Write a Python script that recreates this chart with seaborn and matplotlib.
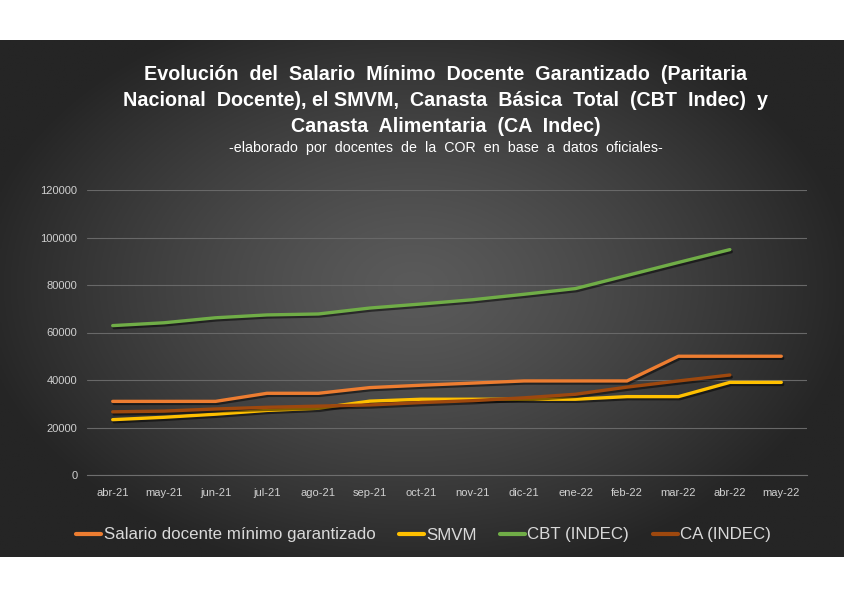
import numpy as np
import pandas as pd
import matplotlib
matplotlib.use("Agg")
import matplotlib.pyplot as plt
import matplotlib.patheffects as pe
from matplotlib.lines import Line2D
import seaborn as sns

# ---- data ----
months = ["abr-21", "may-21", "jun-21", "jul-21", "ago-21", "sep-21", "oct-21",
          "nov-21", "dic-21", "ene-22", "feb-22", "mar-22", "abr-22", "may-22"]
salario_docente = [31000, 31000, 31000, 34400, 34400, 36800, 37800,
                   38700, 39600, 39600, 39600, 50000, 50000, 50000]
smvm = [23300, 24300, 25600, 27200, 28100, 31100, 31900,
        31900, 31900, 31900, 33000, 33000, 39000, 39000]
cbt = [62900, 64100, 66200, 67400, 67800, 70300, 72000,
       73800, 76100, 78500, 84000, 89500, 94900, np.nan]
ca = [26600, 26900, 27800, 28500, 29000, 29500, 30500,
      31300, 32500, 34000, 37000, 39600, 42100, np.nan]

series_names = ["Salario docente mínimo garantizado", "SMVM", "CBT (INDEC)", "CA (INDEC)"]
series_colors = ["#ED7D31", "#FFC000", "#70AD47", "#9E480E"]

title_lines = ["Evolución  del  Salario  Mínimo  Docente  Garantizado  (Paritaria",
               "Nacional  Docente), el SMVM,  Canasta  Básica  Total  (CBT  Indec)  y",
               "Canasta  Alimentaria  (CA  Indec)"]
subtitle = "-elaborado  por  docentes  de  la  COR  en  base  a  datos  oficiales-"

long = []
for name, vals in zip(series_names, [salario_docente, smvm, cbt, ca]):
    long.append(pd.DataFrame({"pos": np.arange(len(months)), "valor": vals, "serie": name}))
long = pd.concat(long, ignore_index=True)

sns.set_theme(style="dark")
plt.rcParams["font.family"] = ["Liberation Sans", "DejaVu Sans"]

fig = plt.figure(figsize=(8.44, 5.99), dpi=100)
fig.patch.set_facecolor("white")

# dark radial-gradient panel behind everything
bg = fig.add_axes([0, 42 / 599, 1, 517 / 599])
bg.set_axis_off()
gx, gy = np.meshgrid(np.linspace(-1, 1, 400), np.linspace(-1, 1, 300))
r = np.sqrt(((gx + 0.02) / 1.05) ** 2 + ((gy + 0.05) / 1.15) ** 2)
r = np.clip(r, 0, 1)
c_in = np.array([0x5a, 0x5a, 0x5a]) / 255
c_out = np.array([0x25, 0x25, 0x25]) / 255
w = r[..., None] ** 1.3
img = c_in[None, None, :] * (1 - w) + c_out[None, None, :] * w
bg.imshow(img, aspect="auto", extent=[0, 1, 0, 1])
bg.set_xlim(0, 1)
bg.set_ylim(0, 1)

ax = fig.add_axes([87 / 844, 124 / 599, 720 / 844, 285 / 599])
ax.patch.set_alpha(0)

sns.lineplot(data=long, x="pos", y="valor", hue="serie", palette=series_colors,
             hue_order=series_names, linewidth=2.4, ax=ax, legend=False,
             sort=False)
for ln in ax.lines:
    ln.set_solid_capstyle("round")
    ln.set_path_effects([pe.SimpleLineShadow(offset=(1, -1.5), shadow_color="black", alpha=0.5),
                         pe.Normal()])

ax.set_xlim(-0.5, len(months) - 0.5)
ax.set_ylim(0, 120000)
ax.set_yticks(np.arange(0, 120001, 20000))
ax.set_yticklabels([str(v) for v in range(0, 120001, 20000)])
ax.set_xticks(np.arange(len(months)))
ax.set_xticklabels(months)
ax.set_xticks(np.arange(-0.5, len(months), 1), minor=True)
ax.tick_params(axis="x", which="major", length=0, pad=9, labelsize=8, colors="#d0d0d0")
ax.tick_params(axis="x", which="minor", length=4, width=0.8, color="#6e6e6e", direction="out")
ax.tick_params(axis="y", length=0, pad=7, labelsize=8, colors="#d0d0d0")
ax.set_xlabel("")
ax.set_ylabel("")
ax.grid(axis="y", color="#686868", linewidth=0.8)
ax.grid(axis="x", visible=False)
for side in ["top", "right", "left"]:
    ax.spines[side].set_visible(False)
ax.spines["bottom"].set_color("#6e6e6e")
ax.spines["bottom"].set_linewidth(0.8)

# title block
for i, line in enumerate(title_lines):
    fig.text(0.528, 1 - (75 + 26 * i) / 599, line, ha="center", va="center", color="white",
             fontsize=14.2, fontweight="bold")
fig.text(0.528, 1 - 148 / 599, subtitle, ha="center", va="center", color="white",
         fontsize=10.3)

handles = [Line2D([0], [0], color=c, linewidth=3) for c in series_colors]
fig.legend(handles, series_names, loc="center", bbox_to_anchor=(0.502, 1 - 535 / 599),
           ncol=4, frameon=False, fontsize=12.2, labelcolor="#d9d9d9",
           handlelength=1.45, handletextpad=0.15, columnspacing=1.4)

fig.savefig("out.png", dpi=100, facecolor="white")
